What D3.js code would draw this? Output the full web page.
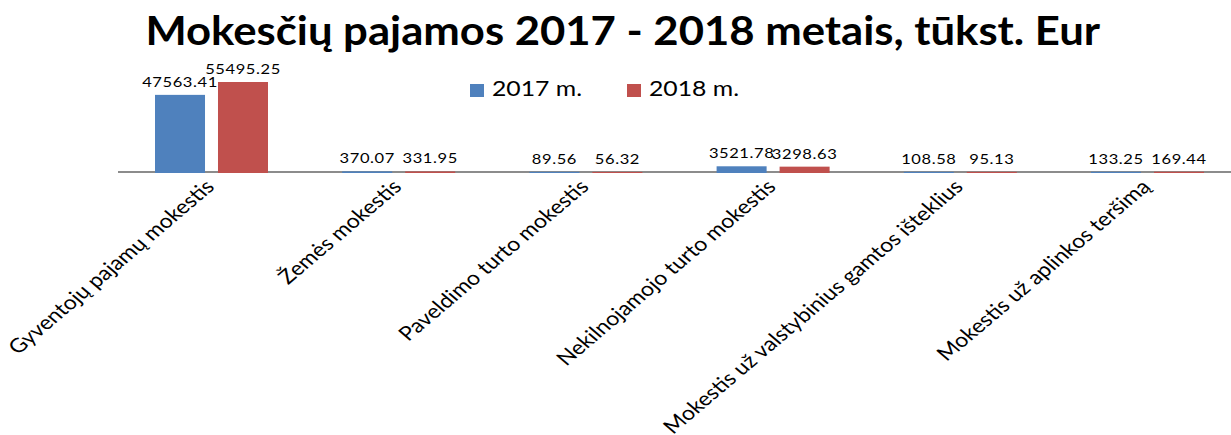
<!DOCTYPE html>
<html>
<head>
<meta charset="utf-8">
<script src="https://cdn.jsdelivr.net/npm/d3@7"></script>
<style>
  body { margin: 0; background: #fff; }
  text { font-family: Lato, "Open Sans", sans-serif; fill: #000; }
</style>
</head>
<body>
<div id="chart"></div>
<script>
const categories = [
  'Gyventojų pajamų mokestis',
  'Žemės mokestis',
  'Paveldimo turto mokestis',
  'Nekilnojamojo turto mokestis',
  'Mokestis už valstybinius gamtos išteklius',
  'Mokestis už aplinkos teršimą'
];
const series = ['2017 m.', '2018 m.'];
const values2017 = [47563.41, 370.07, 89.56, 3521.78, 108.58, 133.25];
const values2018 = [55495.25, 331.95, 56.32, 3298.63, 95.13, 169.44];
const colors = ['#4F81BD', '#C0504D'];

const width = 1231, height = 435;
const stretch = 1.18; // picture looks horizontally stretched
const baseY = 172;

const svg = d3.select('#chart').append('svg')
  .attr('width', width)
  .attr('height', height);

//scales
const x0 = d3.scaleBand().domain(categories).range([118, 118 + 6 * 187.2]).padding(0);
const x1 = d3.scaleBand().domain(series).range([37, 150]).paddingInner(0.206);
const y = d3.scaleLinear().domain([0, 60000]).range([baseY, baseY - 97.3]);

//axis line
svg.append('line')
  .attr('x1', 118).attr('x2', width)
  .attr('y1', baseY).attr('y2', baseY)
  .attr('stroke', '#8c8c8c')
  .attr('stroke-width', 2);

//bars
const rows = categories.map((c, i) => ({cat: c, vals: [values2017[i], values2018[i]]}));
const groups = svg.selectAll('.grp').data(rows).enter().append('g')
  .attr('class', 'grp')
  .attr('transform', d => `translate(${x0(d.cat)},0)`);

groups.selectAll('rect').data(d => d.vals.map((v, i) => ({s: series[i], v, i})))
  .enter().append('rect')
  .attr('x', d => x1(d.s))
  .attr('y', d => y(d.v))
  .attr('width', x1.bandwidth())
  .attr('height', d => baseY - y(d.v) + 1)
  .attr('fill', d => colors[d.i]);

groups.selectAll('.val').data(d => d.vals.map((v, i) => ({s: series[i], v, i})))
  .enter().append('text')
  .attr('class', 'val')
  .attr('transform', d => `translate(${x1(d.s) + x1.bandwidth() / 2},${y(d.v) - 8}) scale(${stretch},1)`)
  .attr('text-anchor', 'middle')
  .style('font-size', '14px')
  .style('letter-spacing', '0.5px')
  .text(d => d.v.toFixed(2));

//category labels
svg.selectAll('.cat').data(categories).enter().append('text')
  .attr('class', 'cat')
  .attr('transform', d => `translate(${x0(d) + x0.bandwidth() / 2 + 4},${baseY + 16}) scale(${stretch},1) rotate(-45)`)
  .attr('text-anchor', 'end')
  .style('font-size', '19.6px')
  .text(d => d);

//legend
const legend = svg.selectAll('.leg').data(series).enter().append('g')
  .attr('class', 'leg')
  .attr('transform', (d, i) => `translate(${470 + i * 157},84)`);
legend.append('rect')
  .attr('width', 14).attr('height', 13)
  .attr('fill', (d, i) => colors[i]);
legend.append('text')
  .attr('transform', `translate(22,12) scale(${stretch},1)`)
  .style('font-size', '21px')
  .text(d => d);

//title
const title = svg.append('text')
  .style('font-size', '41px')
  .style('font-weight', 'bold')
  .text('Mokesčių pajamos 2017 - 2018 metais, tūkst. Eur');
const tw = title.node().getComputedTextLength();
const sx = 955 / tw;
title.attr('transform', `translate(${623 - tw * sx / 2},45) scale(${sx},1)`);
</script>
</body>
</html>
